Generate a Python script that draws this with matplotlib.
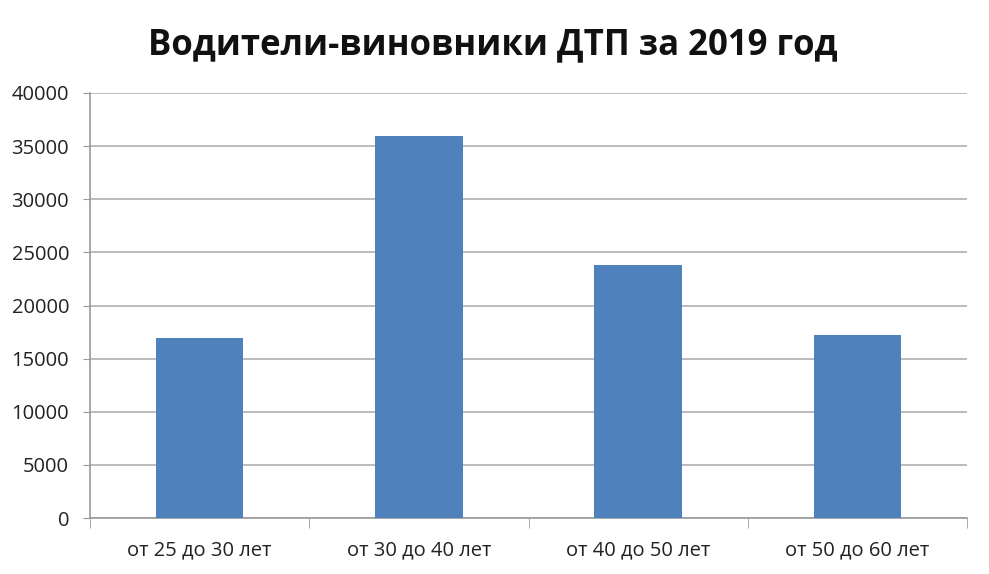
import matplotlib
matplotlib.use("Agg")
import matplotlib.pyplot as plt
import numpy as np

categories = ["от 25 до 30 лет", "от 30 до 40 лет", "от 40 до 50 лет", "от 50 до 60 лет"]
values = [16900, 36000, 23800, 17200]
yticks = [0, 5000, 10000, 15000, 20000, 25000, 30000, 35000, 40000]
title = "Водители-виновники ДТП за 2019 год"

plt.rcParams['font.family'] = ['Open Sans', 'DejaVu Sans']

fig = plt.figure(figsize=(9.89, 5.74), dpi=100)
ax = fig.add_axes([90/989, 1-518/574, (967-90)/989, (518-93)/574])

x = np.arange(len(categories))
ax.bar(x, values, width=0.4, color='#4f81bd', zorder=3)
ax.set_xlim(-0.5, len(categories)-0.5)
ax.set_ylim(0, 40000)
ax.set_yticks(yticks)
ax.set_yticklabels([str(v) for v in yticks], fontsize=14.5, color='#222222')
ax.yaxis.grid(True, color='#b0b0b0', linewidth=1.2, zorder=0)
ax.set_xticks(x)
ax.set_xticklabels(categories, fontsize=14.5, color='#222222')
ax.tick_params(axis='x', length=0, pad=16)
ax.tick_params(axis='y', length=5, color='#999999', pad=10)
# category boundary ticks
ax.set_xticks(np.arange(-0.5, len(categories), 1.0), minor=True)
ax.tick_params(axis='x', which='minor', length=7, color='#999999', direction='out')
for s in ['top', 'right']:
    ax.spines[s].set_visible(False)
for s in ['left', 'bottom']:
    ax.spines[s].set_color('#999999')
    ax.spines[s].set_linewidth(1.2)

fig.text(493/989, 1-45/574, title, ha='center', va='center', fontsize=25, fontweight='bold', color='#111111')

fig.savefig("out.png", dpi=100)
